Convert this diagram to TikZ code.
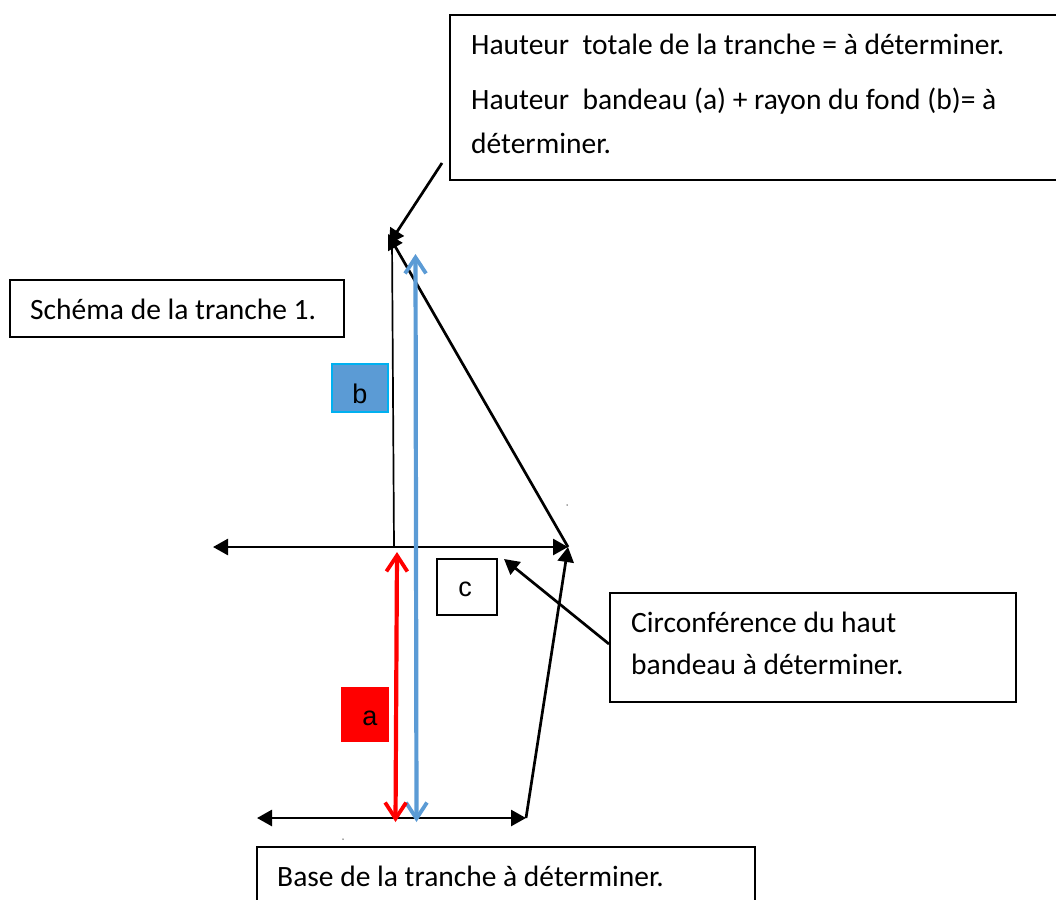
\documentclass[tikz,border=0pt]{standalone}
\usepackage{fontspec}
\setmainfont{Carlito}
\newfontfamily\labelfont{Liberation Sans}
\usetikzlibrary{arrows.meta}
\definecolor{barblue}{HTML}{5B9BD5}
\definecolor{edgeblue}{HTML}{00B0F0}
\tikzset{
  boxline/.style={draw=black,line width=1.7pt},
  textnode/.style={inner sep=0pt,align=left,font=\fontsize{29.5}{44}\selectfont},
  letter/.style={inner sep=0pt,font=\labelfont\fontsize{27}{30}\selectfont},
  edge/.style={draw=black,line width=2.7pt},
  thinedge/.style={draw=black,line width=1.7pt},
  solidtip/.style={-{Triangle[length=15pt,width=16pt]}},
  bothtip/.style={{Triangle[length=15pt,width=16pt]}-{Triangle[length=15pt,width=16pt]}},
  dim/.style={line width=4.2pt,{Straight Barb[length=16pt,width=21pt,line width=3.8pt]}-{Straight Barb[length=16pt,width=21pt,line width=3.8pt]}},
  speck/.style={fill=black!70,circle,inner sep=0pt,minimum size=1.5pt},
}
\begin{document}
\begin{tikzpicture}[x=1pt,y=-1pt]
\useasboundingbox (0,0) rectangle (1056,899);
% text boxes
\draw[boxline] (450,15) rectangle (1057,180);
\node[textnode,anchor=west] (top1) at (471,44) {Hauteur\ \ totale de la tranche = à déterminer.};
\node[textnode,anchor=north west] (top2) at (471,88) {Hauteur\ \ bandeau (a) + rayon du fond (b)= à\\déterminer.};
\draw[boxline] (10,280) rectangle (344,337);
\node[textnode,anchor=west] (schema) at (30,309) {Schéma de la tranche 1.};
\draw[boxline] (610,593) rectangle (1016,702);
\node[textnode,anchor=north west,font=\fontsize{29.5}{42}\selectfont] (circ) at (631,612) {Circonférence du haut\\bandeau à déterminer.};
\draw[boxline] (257,900) -- (257,847) -- (755,847) -- (755,900);
\node[textnode,anchor=west] (base) at (277,876) {Base de la tranche à déterminer.};
% letter boxes
\draw[draw=edgeblue,line width=1.5pt,fill=barblue] (332,364) rectangle (388,412);
\node[letter] (b) at (360,394) {b};
\fill[red] (341,687) rectangle (389,742);
\node[letter] (a) at (370,718) {a};
\draw[boxline,fill=white] (437,559) rectangle (497,615);
\node[letter] (c) at (465,589) {c};
% key points
\coordinate (apex) at (388,234);
\coordinate (calloutAend) at (389,244);
\coordinate (thintop) at (392,240);
\coordinate (spine) at (394,547);
\coordinate (upperleft) at (213,547);
\coordinate (upperright) at (568,547);
\coordinate (lowerleft) at (257,818);
\coordinate (lowerright) at (526,818);
\coordinate (calloutA) at (442,163);
\coordinate (calloutB) at (609,644);
\coordinate (calloutBend) at (504,559);
\coordinate (redtop) at (397,552);
\coordinate (redbot) at (395.5,822);
\coordinate (bluetop) at (415.5,254);
\coordinate (bluebot) at (416.5,822);
% outline
\draw[thinedge] (thintop) -- (spine);
\draw[edge,solidtip] (upperright) -- (apex);
\draw[edge,solidtip] (calloutA) -- (calloutAend);
\draw[edge,bothtip] (upperleft) -- (upperright);
\draw[edge,bothtip] (lowerleft) -- (lowerright);
\draw[edge,solidtip] (lowerright) -- (upperright);
\draw[edge,solidtip] (calloutB) -- (calloutBend);
% dimension arrows
\draw[dim,draw=barblue] (bluetop) -- (bluebot);
\draw[dim,draw=red] (redtop) -- (redbot);
% specks
\node[speck] (s1) at (567,505) {};
\node[speck] (s2) at (343,839) {};
\end{tikzpicture}
\end{document}
